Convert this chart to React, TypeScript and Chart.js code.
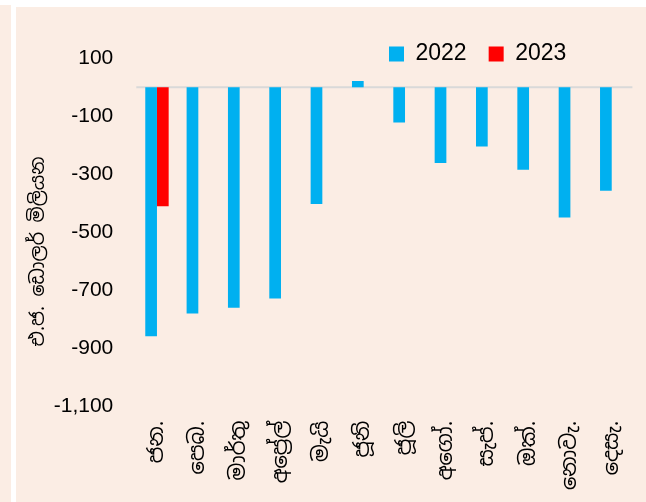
import React, { useEffect, useRef } from 'react';
import { Chart, registerables } from 'chart.js';

Chart.register(...registerables);

const months = ['ජන.', 'පෙබ.', 'මාර්තු', 'අප්‍රේල්', 'මැයි', 'ජූනි', 'ජූලි', 'අගෝ.', 'සැප්.', 'ඔක්.', 'නොවැ.', 'දෙසැ.'];
const values2022 = [-857, -779, -759, -727, -402, 22, -121, -261, -204, -284, -448, -356];
const values2023 = [-410, null, null, null, null, null, null, null, null, null, null, null];
const seriesNames = ['2022', '2023'];
const yMin = -1100;
const yMax = 100;
const yStep = 200;
const yTitle = 'එ.ජ. ඩොලර් මිලියන    ';

const BG = '#FBEDE4';
const SINHALA = "'Noto Sans Sinhala', 'Iskoola Pota', 'Liberation Sans', sans-serif";

export default function App() {
  const ref = useRef<HTMLCanvasElement>(null);

  useEffect(() => {
    document.body.style.margin = '0';
    const canvas = ref.current;
    if (!canvas) return;

    const zeroLine = {
      id: 'zeroLine',
      beforeDatasetsDraw(chart: any) {
        const ctx = chart.ctx;
        const y = chart.scales.y.getPixelForValue(0);
        const { left, right } = chart.chartArea;
        ctx.save();
        ctx.strokeStyle = '#D9D9D9';
        ctx.lineWidth = 2;
        ctx.beginPath();
        ctx.moveTo(left, y);
        ctx.lineTo(right, y);
        ctx.stroke();
        ctx.restore();
      },
    };

    const legendPlace = {
      id: 'legendPlace',
      beforeLayout(chart: any) {
        const lg = chart.legend;
        if (!lg || lg._patched) return;
        const origFit = lg.fit;
        lg.fit = function () {
          origFit.call(this);
          this._realH = this.height;
          this.height = 0;
        };
        lg._patched = true;
      },
      afterLayout(chart: any) {
        const lg = chart.legend;
        if (!lg) return;
        const h = lg._realH || 60;
        const pad = 22;
        lg.left = 389 - pad;
        lg.right = 640;
        lg.width = 640 - lg.left;
        lg.top = 20.5;
        lg.bottom = 20.5 + h;
        lg.height = h;
      },
    };

    const chart = new Chart(canvas, {
      type: 'bar',
      data: {
        labels: months,
        datasets: [
          { label: seriesNames[0], data: values2022, backgroundColor: '#00B0F0' },
          { label: seriesNames[1], data: values2023 as any, backgroundColor: '#FF0000' },
        ],
      },
      options: {
        responsive: false,
        animation: false,
        layout: { padding: { top: 58.3, right: 13.6, bottom: 0, left: 0 } },
        datasets: { bar: { categoryPercentage: 0.566, barPercentage: 1 } },
        plugins: {
          legend: {
            position: 'top',
            align: 'start',
            labels: {
              boxWidth: 15,
              boxHeight: 15,
              padding: 22,
              color: '#000',
              font: { family: "'Liberation Sans', sans-serif", size: 23 },
            },
          },
          tooltip: { enabled: false },
        },
        scales: {
          x: {
            grid: { display: false, drawTicks: false },
            border: { display: false },
            ticks: {
              minRotation: 90,
              maxRotation: 90,
              autoSkip: false,
              padding: 14,
              color: '#000',
              font: { family: SINHALA, size: 21 },
            },
            afterFit(scale: any) {
              scale.height = 502 - 406.7;
              scale.paddingLeft = 0;
              scale.paddingRight = 0;
            },
          },
          y: {
            min: yMin,
            max: yMax,
            grid: { display: false, drawTicks: false },
            border: { display: false },
            ticks: {
              stepSize: yStep,
              padding: 23,
              color: '#000',
              font: { family: "'Liberation Sans', sans-serif", size: 21 },
            },
            title: {
              display: true,
              text: yTitle,
              color: '#000',
              padding: { top: 27, bottom: 0 },
              font: { family: SINHALA, size: 19 },
            },
            afterFit(scale: any) {
              scale.width = 136.3;
            },
          },
        },
      },
      plugins: [zeroLine, legendPlace],
    });

    return () => chart.destroy();
  }, []);

  return (
    <div style={{ position: 'relative', width: 646, height: 502, background: '#fff', overflow: 'hidden' }}>
      <div style={{ position: 'absolute', left: 0, top: 5, width: 11, bottom: 0, background: BG }} />
      <div style={{ position: 'absolute', left: 16, top: 7, right: 0, bottom: 0, background: BG }} />
      <canvas ref={ref} width={646} height={502} style={{ position: 'absolute', left: 0, top: 0 }} />
    </div>
  );
}
